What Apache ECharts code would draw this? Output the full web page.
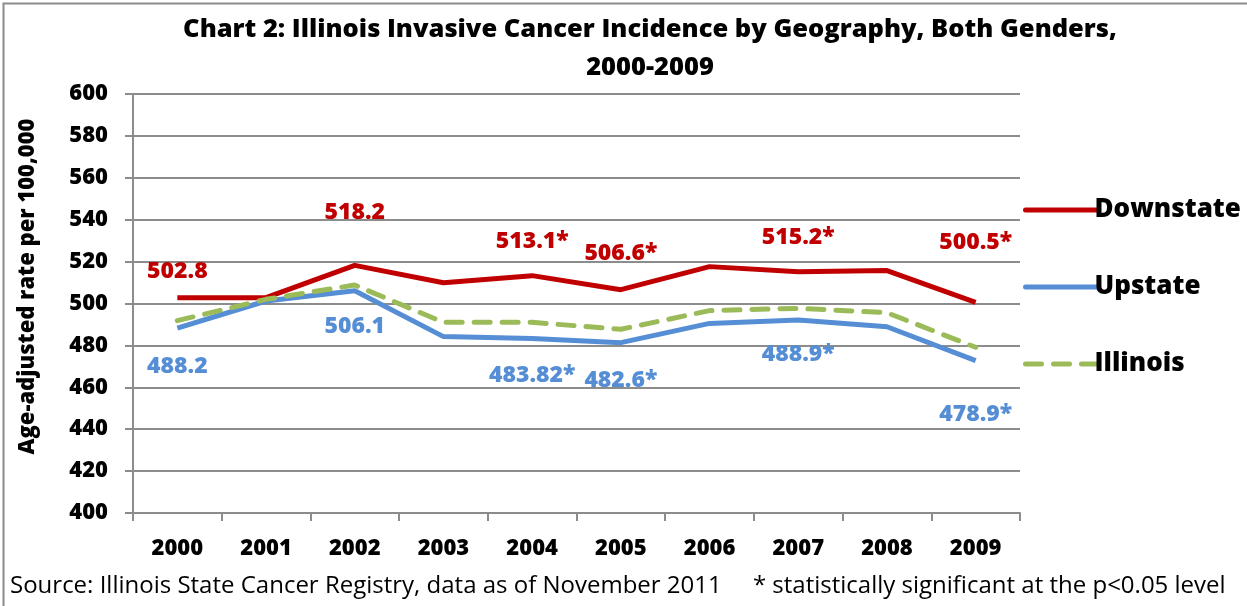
<!DOCTYPE html>
<html>
<head>
<meta charset="utf-8">
<script src="https://cdn.jsdelivr.net/npm/echarts@6/dist/echarts.min.js"></script>
<style>
  html, body { margin: 0; padding: 0; background: #fff; }
  #chart { width: 1247px; height: 606px; }
</style>
</head>
<body>
<div id="chart"></div>
<script>
const years = ['2000', '2001', '2002', '2003', '2004', '2005', '2006', '2007', '2008', '2009'];
const yTicks = [400, 420, 440, 460, 480, 500, 520, 540, 560, 580, 600];

// line values
const downstate = [502.8, 502.8, 518.2, 509.9, 513.3, 506.6, 517.6, 515.2, 515.7, 500.5];
const upstate = [488.2, 501.2, 506.1, 484.2, 483.3, 481.3, 490.5, 492.1, 488.9, 472.7];
const illinois = [491.8, 502.0, 508.8, 491.0, 491.0, 487.7, 496.6, 497.7, 495.6, 479.1];

// data label texts as printed on the chart ('' = no label)
const downstateLabels = ['502.8', '', '518.2', '', '513.1*', '506.6*', '', '515.2*', '', '500.5*'];
const upstateLabels = ['488.2', '', '506.1', '', '483.82*', '482.6*', '', '488.9*', '', '478.9*'];

const FONT = '"Open Sans", Lato, sans-serif';
const BOLD = 800;
const RED = '#c00000';
const BLUE = '#558ed5';
const GREEN = '#9bbb59';

// vertical label offsets from the point, in pixels
const downOffsets = [-26, 0, -53, 0, -34, -36, 0, -34, 0, -60];
const upOffsets = [38, 0, 36, 0, 37, 38, 0, 34, 0, 54];

function withLabels(values, labels, offsets, color) {
  return values.map(function (v, i) {
    if (!labels[i]) return v;
    return {
      value: v,
      label: {
        show: true,
        position: 'inside',
        offset: [0, offsets[i]],
        formatter: labels[i],
        color: color,
        fontFamily: FONT,
        fontWeight: BOLD,
        fontSize: 23
      }
    };
  });
}

const chart = echarts.init(document.getElementById('chart'));

const option = {
  animation: false,
  backgroundColor: '#fff',
  title: {
    text: 'Chart 2: Illinois Invasive Cancer Incidence by Geography, Both Genders,\n2000-2009',
    left: 645,
    textAlign: 'center',
    top: 6,
    textStyle: {
      fontFamily: FONT,
      fontWeight: BOLD,
      fontSize: 25.5,
      lineHeight: 38,
      color: '#000'
    }
  },
  legend: {
    orient: 'vertical',
    left: 1018,
    top: 192,
    itemWidth: 72,
    itemHeight: 24,
    itemGap: 51,
    data: ['Downstate', 'Upstate', 'Illinois'],
    itemStyle: { opacity: 0 },
    lineStyle: { width: 5, cap: 'round' },
    textStyle: {
      fontFamily: FONT,
      fontWeight: BOLD,
      fontSize: 26,
      color: '#000',
      padding: [0, 0, 0, -8]
    }
  },
  grid: {
    left: 133,
    right: 227,
    top: 94,
    bottom: 93
  },
  xAxis: {
    type: 'category',
    data: years,
    boundaryGap: true,
    axisLine: { lineStyle: { color: '#8c8c8c', width: 2 } },
    axisTick: { show: true, length: 8, lineStyle: { color: '#8c8c8c', width: 2 } },
    axisLabel: {
      margin: 25,
      color: '#000',
      fontFamily: FONT,
      fontWeight: BOLD,
      fontSize: 22
    }
  },
  yAxis: {
    type: 'value',
    min: 400,
    max: 600,
    interval: 20,
    name: 'Age-adjusted rate per 100,000',
    nameLocation: 'middle',
    nameGap: 94,
    nameTextStyle: {
      color: '#000',
      fontFamily: FONT,
      fontWeight: BOLD,
      fontSize: 22,
      padding: [0, 0, 0, 34]
    },
    axisLine: { show: true, lineStyle: { color: '#8c8c8c', width: 2 } },
    axisTick: { show: true, length: 8, lineStyle: { color: '#8c8c8c', width: 2 } },
    splitLine: { lineStyle: { color: '#8c8c8c', width: 2 } },
    axisLabel: {
      margin: 25,
      color: '#000',
      fontFamily: FONT,
      fontWeight: BOLD,
      fontSize: 22,
      formatter: function (v) { return yTicks.indexOf(v) >= 0 ? String(v) : ''; }
    }
  },
  series: [
    {
      name: 'Downstate',
      type: 'line',
      data: withLabels(downstate, downstateLabels, downOffsets, RED),
      symbol: 'circle',
      symbolSize: 0.1,
      color: RED,
      lineStyle: { color: RED, width: 5 },
      z: 3
    },
    {
      name: 'Upstate',
      type: 'line',
      data: withLabels(upstate, upstateLabels, upOffsets, BLUE),
      symbol: 'circle',
      symbolSize: 0.1,
      color: BLUE,
      lineStyle: { color: BLUE, width: 5 },
      z: 2
    },
    {
      name: 'Illinois',
      type: 'line',
      data: illinois,
      symbol: 'circle',
      symbolSize: 0.1,
      color: GREEN,
      lineStyle: { color: GREEN, width: 5, type: [16, 12], cap: 'round' },
      z: 4
    }
  ],
  graphic: [
    {
      type: 'rect',
      left: 1,
      top: 1,
      shape: { width: 1260, height: 620 },
      style: { fill: 'none', stroke: '#8c8c8c', lineWidth: 2 },
      silent: true
    },
    {
      type: 'text',
      left: 10,
      top: 574,
      style: {
        text: 'Source: Illinois State Cancer Registry, data as of November 2011     * statistically significant at the p<0.05 level',
        fill: '#000',
        font: '24px ' + FONT
      }
    }
  ]
};

chart.setOption(option);
</script>
</body>
</html>
